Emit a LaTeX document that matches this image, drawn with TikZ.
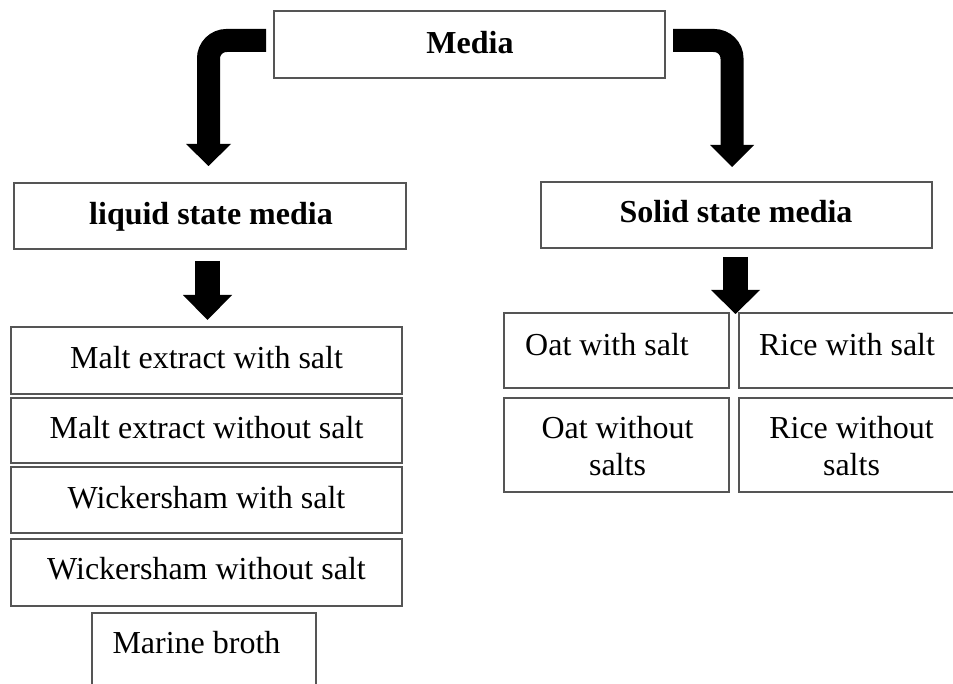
\documentclass[tikz,border=0pt]{standalone}
\usepackage{fontspec}
\setmainfont{Liberation Serif}
\definecolor{boxline}{RGB}{85,85,85}
\begin{document}
\begin{tikzpicture}[x=0.75pt,y=-0.75pt,
  box/.style 2 args={draw=boxline, line width=1.1pt, minimum width=#1*0.75pt,
    minimum height=#2*0.75pt, inner sep=0pt, outer sep=0pt, anchor=north west},
  txt/.style={font=\fontsize{24}{27.75}\selectfont, anchor=base, inner sep=0pt, align=center},
  ttl/.style={font=\bfseries\fontsize{24}{27.75}\selectfont, anchor=base, inner sep=0pt},
  shaft/.style={draw=black, line width=#1*0.75pt, line cap=butt, line join=miter, rounded corners=13.5pt}]
\useasboundingbox (0,0) rectangle (953,684);
\clip (0,0) rectangle (953,684);
\fill[white] (0,0) rectangle (953,684);

% top level
\node[box={391}{67}] (media) at (274,11) {};
\node[ttl] (mediaT) at (470,54) {Media};

% the two branches
\node[box={392}{66}] (liquid) at (14,183) {};
\node[ttl] (liquidT) at (211,225) {liquid state media};
\node[box={391}{66}] (solid) at (541,182) {};
\node[ttl] (solidT) at (736,223) {Solid state media};

% liquid media list
\node[box={391}{67}] (maltA) at (11,327) {};
\node[txt] (maltAT) at (206.5,368) {Malt extract with salt};
\node[box={391}{65}] (maltB) at (11,398) {};
\node[txt] (maltBT) at (206.5,438) {Malt extract without salt};
\node[box={391}{66}] (wickA) at (11,467) {};
\node[txt] (wickAT) at (206.5,508) {Wickersham with salt};
\node[box={391}{67}] (wickB) at (11,539) {};
\node[txt] (wickBT) at (206.5,579) {Wickersham without salt};
\node[box={224}{90}] (marine) at (92,613) {};
\node[txt] (marineT) at (196.5,653) {Marine broth};

% solid media grid (two-line labels sit on their last baseline)
\node[box={225}{75}] (oatA) at (504,313) {};
\node[txt] (oatAT) at (607,355) {Oat with salt};
\node[box={225}{75}] (riceA) at (739,313) {};
\node[txt] (riceAT) at (847,355) {Rice with salt};
\node[box={225}{94}] (oatB) at (504,398) {};
\node[txt] (oatBT) at (617.5,475) {Oat without\\salts};
\node[box={225}{94}] (riceB) at (739,398) {};
\node[txt] (riceBT) at (851.5,475) {Rice without\\salts};

% arrow tips
\coordinate (tipA) at (208.5,166);
\coordinate (tipB) at (732,167);
\coordinate (tipC) at (207.5,320);
\coordinate (tipD) at (735.5,314);

% bent arrows from Media
\draw[shaft=23, shorten >=16.5pt] ([shift={(-8,-4)}]media.west) -| (tipA);
\fill (tipA) -- ++(-22.5,-22) -- ++(45,0) -- cycle;
\draw[shaft=23, shorten >=16.5pt] ([shift={(8,-4)}]media.east) -| (tipB);
\fill (tipB) -- ++(-22,-22) -- ++(44,0) -- cycle;

% straight arrows to the lists
\draw[shaft=25, shorten >=18.75pt] ([shift={(-2.5,12)}]liquid.south) -- (tipC);
\fill (tipC) -- ++(-24.5,-25) -- ++(49,0) -- cycle;
\draw[shaft=25, shorten >=18pt] ([shift={(-1,9)}]solid.south) -- (tipD);
\fill (tipD) -- ++(-24.5,-24) -- ++(49,0) -- cycle;
\end{tikzpicture}
\end{document}
